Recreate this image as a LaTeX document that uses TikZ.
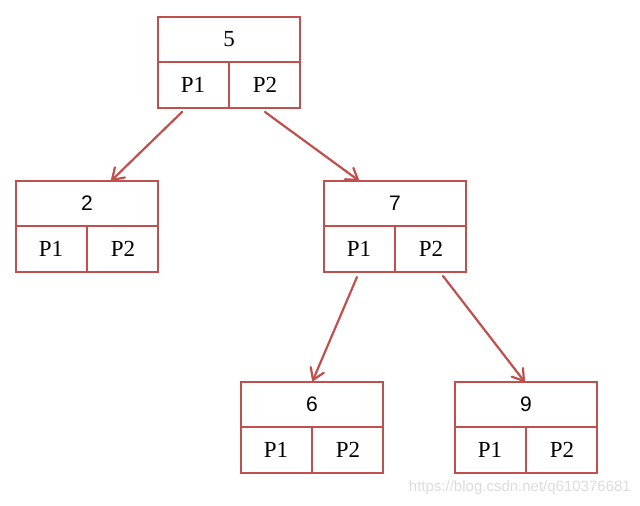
\documentclass[tikz,border=0pt]{standalone}
\usepackage{fontspec}
\setmainfont{Liberation Serif}
\setsansfont{Liberation Sans}
\usetikzlibrary{shapes}
\usetikzlibrary{calc}
\usetikzlibrary{positioning}
\definecolor{boxred}{HTML}{C0504D}
\definecolor{marktext}{HTML}{DCDCDC}
% straight V head drawn from named coordinates
\newcommand{\linkarrow}[2]{%
  \draw[arr] (#1) -- (#2);
  \draw[arr] ($(#2)!13pt!33:(#1)$) -- (#2) -- ($(#2)!13pt!-33:(#1)$);}

\begin{document}
\begin{tikzpicture}[x=1pt,y=1pt]
\tikzstyle{keybox}=[rectangle,draw=boxred,line width=1.6pt,outer sep=0pt,minimum width=142pt,minimum height=45pt,inner sep=0pt,font=\fontsize{21}{21}\sffamily]
\tikzstyle{ptrbox}=[rectangle split,rectangle split horizontal,rectangle split parts=2,draw=boxred,line width=1.6pt,outer sep=0pt,inner xsep=0pt,inner ysep=0pt,text width=70.4pt,align=center,text height=16pt,text depth=0pt,minimum height=46pt,font=\fontsize{23}{23}\selectfont]
\tikzstyle{arr}=[draw=boxred,line width=2.2pt,line cap=round,line join=round]
\useasboundingbox (0,0) rectangle (640,506);
\node[keybox,font=\fontsize{23}{23}\rmfamily] (key5) at (229,466.5) {5};
\node[ptrbox,below=0pt of key5] (ptr5) {P1 \nodepart{two} P2};
\node[keybox] (key2) at (87,302.5) {2};
\node[ptrbox,below=0pt of key2] (ptr2) {P1 \nodepart{two} P2};
\node[keybox] (key7) at (395,302.5) {7};
\node[ptrbox,below=0pt of key7] (ptr7) {P1 \nodepart{two} P2};
\node[keybox] (key6) at (312,101.5) {6};
\node[ptrbox,below=0pt of key6] (ptr6) {P1 \nodepart{two} P2};
\node[keybox] (key9) at (526,101.5) {9};
\node[ptrbox,below=0pt of key9] (ptr9) {P1 \nodepart{two} P2};
\coordinate (from52) at ([xshift=-11pt,yshift=-4pt]ptr5.one south);
\coordinate (to52) at ([xshift=25pt,yshift=1pt]key2.north);
\coordinate (from57) at ([xshift=0pt,yshift=-4pt]ptr5.two south);
\coordinate (to57) at ([xshift=-37pt,yshift=1pt]key7.north);
\coordinate (from76) at ([xshift=-2pt,yshift=-5pt]ptr7.one south);
\coordinate (to76) at ([xshift=1pt,yshift=2pt]key6.north);
\coordinate (from79) at ([xshift=12pt,yshift=-4pt]ptr7.two south);
\coordinate (to79) at ([xshift=-2pt,yshift=1pt]key9.north);
\linkarrow{from52}{to52}
\linkarrow{from57}{to57}
\linkarrow{from76}{to76}
\linkarrow{from79}{to79}
\node[text=marktext,font=\fontsize{15}{15}\sffamily,anchor=east,inner sep=0pt] (mark) at (631,18) {https://blog.csdn.net/q610376681};
\end{tikzpicture}
\end{document}
